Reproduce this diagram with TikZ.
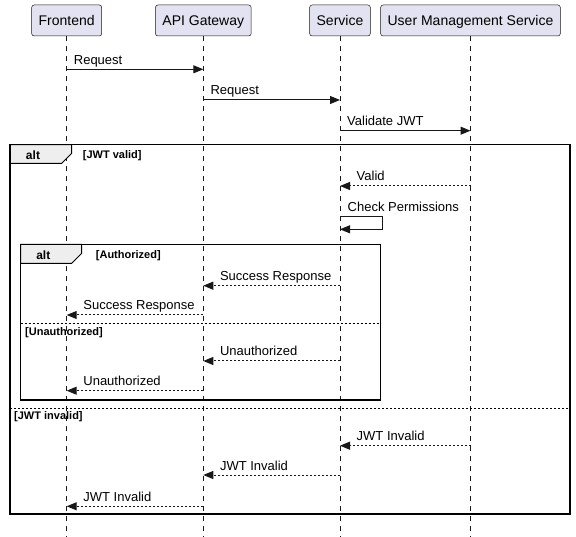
\documentclass[tikz,border=0pt]{standalone}
\usepackage{fontspec}
\setmainfont{Liberation Sans}
\usetikzlibrary{calc,arrows.meta}
\definecolor{partFill}{HTML}{E2E2F0}
\definecolor{partLine}{HTML}{181818}
\definecolor{tabFill}{HTML}{EEEEEE}
\def\placeCoords{%
\coordinate (f0) at (66.7,537);
\coordinate (g0) at (203.3,537);
\coordinate (s0) at (340,537);
\coordinate (u0) at (470.5,537);
\coordinate (f1) at (66.7,69.3);
\coordinate (g1) at (203.3,69.3);
\coordinate (g2) at (203.3,100);
\coordinate (s2) at (340,100);
\coordinate (s3) at (340,130.7);
\coordinate (u3) at (470.5,130.7);
\coordinate (u4) at (470.5,186);
\coordinate (s4) at (340,186);
\coordinate (s5) at (340,216.7);
\coordinate (s5b) at (340,229.3);
\coordinate (s6) at (340,285.7);
\coordinate (g6) at (203.3,285.7);
\coordinate (g7) at (203.3,315);
\coordinate (f7) at (66.7,315);
\coordinate (s8) at (340,361);
\coordinate (g8) at (203.3,361);
\coordinate (g9) at (203.3,390.7);
\coordinate (f9) at (66.7,390.7);
\coordinate (u10) at (470.5,445.7);
\coordinate (s10) at (340,445.7);
\coordinate (s11) at (340,475);
\coordinate (g11) at (203.3,475);
\coordinate (g12) at (203.3,506.3);
\coordinate (f12) at (66.7,506.3);
}
\def\placeFrames{%
\coordinate (alt1nw) at (10,144.7);
\coordinate (alt1se) at (570,514);
\coordinate (sep1w) at (10,408.3);
\coordinate (sep1e) at (570,408.3);
\coordinate (alt2nw) at (20.7,244.3);
\coordinate (alt2se) at (380.7,400);
\coordinate (sep2w) at (20.7,324);
\coordinate (sep2e) at (380.7,324);
}
\begin{document}
\begin{tikzpicture}[x={(1pt,0pt)}, y={(0pt,-1pt)}]

% styles
\tikzstyle{participant}=[rectangle, rounded corners=2.5pt, draw=partLine, fill=partFill, line width=0.5pt, inner xsep=7pt, minimum height=31pt, text height=12pt, text depth=1pt, font=\fontsize{14}{16}\selectfont]
\tikzstyle{textLine}=[anchor=base west, inner sep=0pt, font=\fontsize{13}{15}\selectfont]
\tikzstyle{textGuard}=[anchor=base west, inner sep=0pt, font=\fontsize{11}{13}\selectfont\bfseries]
\tikzstyle{textAlt}=[anchor=base, inner sep=0pt, font=\fontsize{12}{14}\selectfont\bfseries]
\tikzstyle{lifeline}=[partLine, line width=0.5pt, dash pattern=on 5pt off 5pt]
\tikzstyle{msg}=[-{Triangle[length=10pt,width=8pt]}, line width=1pt, partLine]
\tikzstyle{reply}=[msg, dash pattern=on 2pt off 2pt]
\tikzstyle{frame}=[line width=1.5pt, black]
\tikzstyle{tab}=[line width=1pt, black, fill=tabFill]
\tikzstyle{separator}=[line width=1pt, black, dash pattern=on 2pt off 2pt]

\useasboundingbox (0,0) rectangle (576,537);
\placeCoords
\placeFrames

% participants
\node[participant] (fe) at (66.7,20.5) {Frontend};
\node[participant] (gw) at (203.3,20.5) {API Gateway};
\node[participant] (sv) at (340,20.5) {Service};
\node[participant] (um) at (470.5,20.5) {User Management Service};

\draw[lifeline] (fe) -- (f0);
\draw[lifeline] (gw) -- (g0);
\draw[lifeline] (sv) -- (s0);
\draw[lifeline] (um) -- (u0);

% alt frames
\draw[tab] (alt1nw) -- ++(61.7,0) -- ++(0,8.6) -- ++(-10,10) -- ++(-51.7,0) -- cycle;
\draw[frame] (alt1nw) rectangle (alt1se);
\node[textAlt] (alt1) at (33,160) {alt};
\node[textGuard] (guard1) at (82.7,158.5) {[JWT valid]};
\draw[separator] (sep1w) -- (sep1e);
\node[textGuard] (guard2) at (14,420) {[JWT invalid]};

\draw[tab] (alt2nw) -- ++(61,0) -- ++(0,9) -- ++(-10,10) -- ++(-51,0) -- cycle;
\draw[frame] (alt2nw) rectangle (alt2se);
\node[textAlt] (alt2) at (43.3,259.5) {alt};
\node[textGuard] (guard3) at (95.7,258.5) {[Authorized]};
\draw[separator] (sep2w) -- (sep2e);
\node[textGuard] (guard4) at (25,336) {[Unauthorized]};

% messages
\draw[msg] (f1) -- (g1);
\node[textLine] (t1) at ($(f1)+(7,-5)$) {Request};
\draw[msg] (g2) -- (s2);
\node[textLine] (t2) at ($(g2)+(7,-5)$) {Request};
\draw[msg] (s3) -- (u3);
\node[textLine] (t3) at ($(s3)+(7,-5)$) {Validate JWT};
\draw[reply] (u4) -- (s4);
\node[textLine] (t4) at ($(s4)+(16.5,-5)$) {Valid};
\draw[msg] (s5) -- ++(42,0) |- (s5b);
\node[textLine] (t5) at ($(s5)+(7.5,-5)$) {Check Permissions};

\draw[reply] (s6) -- (g6);
\node[textLine] (t6) at ($(g6)+(16.5,-5)$) {Success Response};
\draw[reply] (g7) -- (f7);
\node[textLine] (t7) at ($(f7)+(16.5,-5)$) {Success Response};
\draw[reply] (s8) -- (g8);
\node[textLine] (t8) at ($(g8)+(16.5,-5)$) {Unauthorized};
\draw[reply] (g9) -- (f9);
\node[textLine] (t9) at ($(f9)+(16.5,-5)$) {Unauthorized};

\draw[reply] (u10) -- (s10);
\node[textLine] (t10) at ($(s10)+(16.5,-5)$) {JWT Invalid};
\draw[reply] (s11) -- (g11);
\node[textLine] (t11) at ($(g11)+(16.5,-5)$) {JWT Invalid};
\draw[reply] (g12) -- (f12);
\node[textLine] (t12) at ($(f12)+(16.5,-5)$) {JWT Invalid};

\end{tikzpicture}
\end{document}
